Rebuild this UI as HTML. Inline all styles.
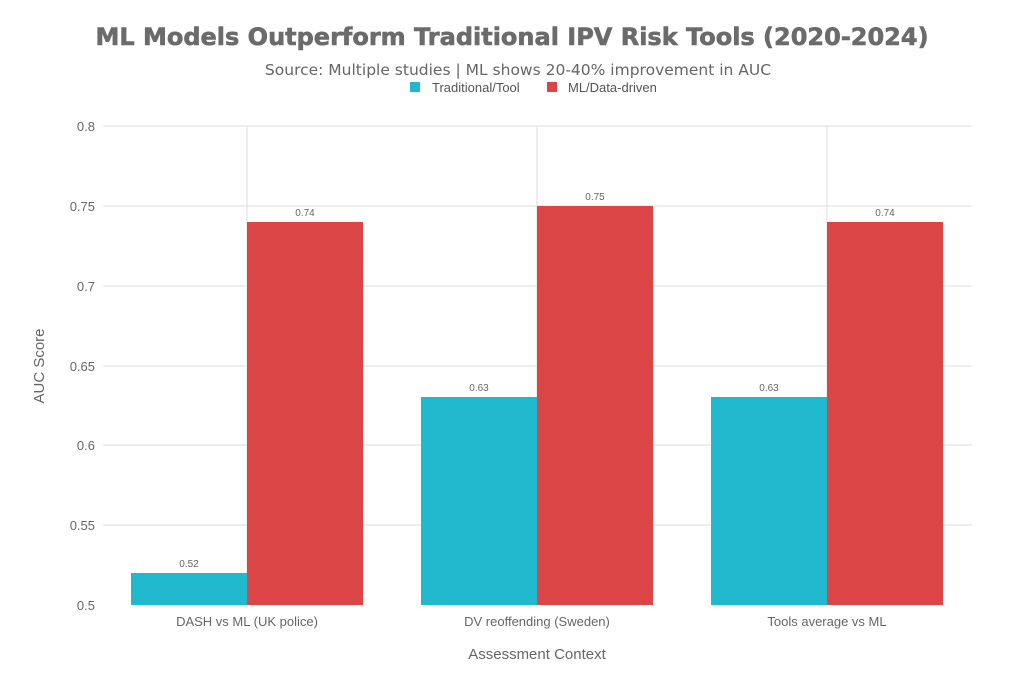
<!DOCTYPE html>
<html><head><meta charset="utf-8"><style>
body{margin:0;background:#fff;}
svg text{font-family:"Liberation Sans",sans-serif;}
</style></head><body>
<svg width="1023" height="682" xmlns="http://www.w3.org/2000/svg">
<rect width="1023" height="682" fill="#fff"/>
<text x="512" y="45" text-anchor="middle" font-size="24" font-weight="bold" fill="#6b6b6b" style="font-family:'DejaVu Sans',sans-serif" stroke="#6b6b6b" stroke-width="0.6">ML Models Outperform Traditional IPV Risk Tools (2020-2024)</text>
<text x="518" y="75" text-anchor="middle" font-size="15.5" fill="#666" style="font-family:'DejaVu Sans',sans-serif">Source: Multiple studies | ML shows 20-40% improvement in AUC</text>
<rect x="410" y="82" width="10" height="10" fill="#1fb8cd"/>
<text x="432" y="92" font-size="13" fill="#555">Traditional/Tool</text>
<rect x="547" y="82" width="10" height="10" fill="#db4545"/>
<text x="568" y="92" font-size="13" fill="#555">ML/Data-driven</text>
<g stroke="#dedede" stroke-width="1">
<line x1="103" x2="972" y1="126" y2="126"/>
<line x1="103" x2="972" y1="206" y2="206"/>
<line x1="103" x2="972" y1="286" y2="286"/>
<line x1="103" x2="972" y1="366" y2="366"/>
<line x1="103" x2="972" y1="445" y2="445"/>
<line x1="103" x2="972" y1="525" y2="525"/>
<line x1="247" x2="247" y1="126" y2="605"/>
<line x1="537" x2="537" y1="126" y2="605"/>
<line x1="827" x2="827" y1="126" y2="605"/>
</g>
<g font-size="13" fill="#666" text-anchor="end">
<text x="95" y="131">0.8</text>
<text x="95" y="211">0.75</text>
<text x="95" y="291">0.7</text>
<text x="95" y="371">0.65</text>
<text x="95" y="450">0.6</text>
<text x="95" y="530">0.55</text>
<text x="95" y="610">0.5</text>
</g>
<g fill="#1fb8cd">
<rect x="131" y="573" width="116" height="32"/>
<rect x="421" y="397" width="116" height="208"/>
<rect x="711" y="397" width="116" height="208"/>
</g>
<g fill="#db4545">
<rect x="247" y="222" width="116" height="383"/>
<rect x="537" y="206" width="116" height="399"/>
<rect x="827" y="222" width="116" height="383"/>
</g>
<g font-size="10" fill="#666" text-anchor="middle">
<text x="189" y="567">0.52</text>
<text x="305" y="216">0.74</text>
<text x="479" y="391">0.63</text>
<text x="595" y="200">0.75</text>
<text x="769" y="391">0.63</text>
<text x="885" y="216">0.74</text>
</g>
<g font-size="13" fill="#666" text-anchor="middle">
<text x="247" y="626">DASH vs ML (UK police)</text>
<text x="537" y="626">DV reoffending (Sweden)</text>
<text x="827" y="626">Tools average vs ML</text>
</g>
<text x="537" y="659" text-anchor="middle" font-size="15" fill="#666">Assessment Context</text>
<text transform="translate(44,366) rotate(-90)" text-anchor="middle" font-size="15" fill="#666">AUC Score</text>
</svg>
</body></html>
